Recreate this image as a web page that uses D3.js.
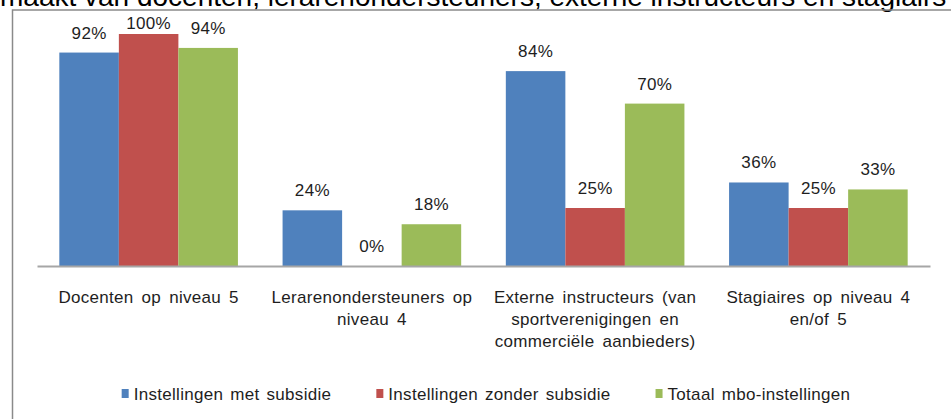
<!DOCTYPE html>
<html>
<head>
<meta charset="utf-8">
<script src="https://cdn.jsdelivr.net/npm/d3@7"></script>
<style>
  body { margin: 0; background: #fff; overflow: hidden; }
  text { font-family: "Liberation Sans", Arial, sans-serif; fill: #1e1e1e; }
</style>
</head>
<body>
<script>
const titleText = "maakt van docenten, lerarenondersteuners, externe instructeurs en stagiairs";

const categories = [
  "Docenten op niveau 5",
  "Lerarenondersteuners op niveau 4",
  "Externe instructeurs (van sportverenigingen en commerciële aanbieders)",
  "Stagiaires op niveau 4 en/of 5"
];
// tick labels, broken into lines as in the original
const categoryLines = [
  ["Docenten op niveau 5"],
  ["Lerarenondersteuners op", "niveau 4"],
  ["Externe instructeurs (van", "sportverenigingen en", "commerciële aanbieders)"],
  ["Stagiaires op niveau 4", "en/of 5"]
];

const seriesNames = ["Instellingen met subsidie", "Instellingen zonder subsidie", "Totaal mbo-instellingen"];
const metSubsidie = [0.92, 0.24, 0.84, 0.36];
const zonderSubsidie = [1.0, 0.0, 0.25, 0.25];
const totaalMbo = [0.94, 0.18, 0.70, 0.33];
const seriesColors = ["#4F81BD", "#C0504D", "#9BBB59"];

const width = 951;
const height = 419;
const plot = { left: 37, right: 930, top: 34, bottom: 266 };

const seriesValues = [metSubsidie, zonderSubsidie, totaalMbo];
const rows = categories.map((c, i) => ({
  category: c,
  values: seriesNames.map((s, j) => ({ series: s, value: seriesValues[j][i] }))
}));

const svg = d3
  .select("body")
  .append("svg")
  .attr("width", width)
  .attr("height", height);

// clipped title line above the chart (cut off in the original too)
svg
  .append("text")
  .attr("x", 0)
  .attr("y", 6)
  .style("font-size", "28px")
  .style("fill", "#000")
  .text(titleText);

// chart frame (extends past the picture on the right and bottom)
svg
  .append("rect")
  .attr("x", 12.5)
  .attr("y", 10)
  .attr("width", 1000)
  .attr("height", 500)
  .attr("fill", "none")
  .attr("stroke", "#8a8a8a")
  .attr("stroke-width", 1.5);

const x0 = d3
  .scaleBand()
  .domain(categories)
  .range([plot.left, plot.right])
  .paddingInner(0.2)
  .paddingOuter(0.1);

const x1 = d3
  .scaleBand()
  .domain(seriesNames)
  .range([0, x0.bandwidth()]);

const color = d3.scaleOrdinal().domain(seriesNames).range(seriesColors);

const y = d3.scaleLinear().domain([0, 1]).range([plot.bottom, plot.top]);

const groups = svg
  .selectAll("g.cat")
  .data(rows)
  .enter()
  .append("g")
  .attr("class", "cat")
  .attr("transform", d => `translate(${x0(d.category)},0)`);

groups
  .selectAll("rect")
  .data(d => d.values)
  .enter()
  .append("rect")
  .attr("x", d => x1(d.series))
  .attr("y", d => y(d.value))
  .attr("width", x1.bandwidth())
  .attr("height", d => y(0) - y(d.value))
  .attr("fill", d => color(d.series));

groups
  .selectAll("text.val")
  .data(d => d.values)
  .enter()
  .append("text")
  .attr("class", "val")
  .attr("x", d => x1(d.series) + x1.bandwidth() / 2)
  .attr("y", d => Math.max(y(d.value) - 14, 29))
  .attr("text-anchor", "middle")
  .style("font-size", "17px")
  .style("letter-spacing", "0.3px")
  .text(d => d3.format(".0%")(d.value));

// x axis: baseline only, labels below
const xAxis = g =>
  g
    .attr("transform", `translate(0,${plot.bottom})`)
    .call(d3.axisBottom(x0).tickSize(0).tickSizeOuter(0).tickFormat(""))
    .call(g => g.select(".domain").attr("stroke", "#a6a6a6").attr("stroke-width", 2));

svg.append("g").call(xAxis);

const labelG = svg
  .selectAll("text.cat")
  .data(categories)
  .enter()
  .append("text")
  .attr("class", "cat")
  .attr("x", d => x0(d) + x0.bandwidth() / 2)
  .attr("y", 303)
  .attr("text-anchor", "middle")
  .style("font-size", "17px")
  .style("letter-spacing", "0.3px")
  .style("word-spacing", "3px");

labelG
  .selectAll("tspan")
  .data((d, i) => categoryLines[i])
  .enter()
  .append("tspan")
  .attr("x", function() {
    return d3.select(this.parentNode).attr("x");
  })
  .attr("dy", (d, i) => (i === 0 ? 0 : 22))
  .text(d => d);

// legend
const legend = svg.append("g");
const items = legend
  .selectAll("g")
  .data(seriesNames)
  .enter()
  .append("g");

items
  .append("rect")
  .attr("y", 389)
  .attr("width", 7)
  .attr("height", 9)
  .attr("fill", d => color(d));

items
  .append("text")
  .attr("x", 12)
  .attr("y", 400)
  .style("font-size", "17px")
  .style("letter-spacing", "0.3px")
  .style("word-spacing", "2px")
  .text(d => d);

const widths = [];
items.each(function() {
  widths.push(this.getBBox().width);
});
const gap = 45;
const total = d3.sum(widths) + gap * (widths.length - 1);
let offset = 486 - total / 2;
items.attr("transform", (d, i) => {
  const t = `translate(${offset},0)`;
  offset += widths[i] + gap;
  return t;
});
</script>
</body>
</html>
